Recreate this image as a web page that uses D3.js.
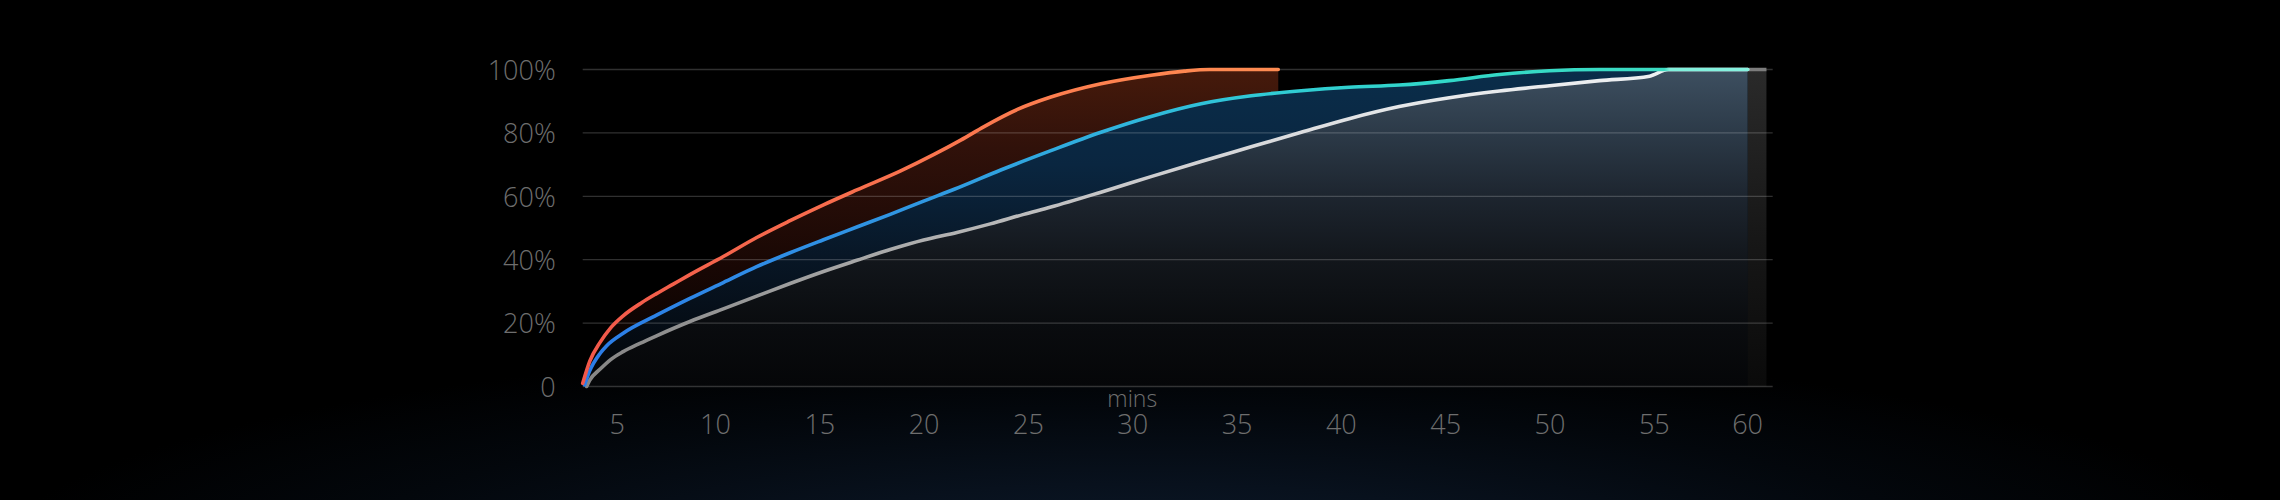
<!DOCTYPE html>
<html>
<head>
<meta charset="utf-8">
<script src="https://cdn.jsdelivr.net/npm/d3@7"></script>
<style>
  html, body { margin: 0; padding: 0; background: #000; }
  svg { display: block; }
  text { font-family: "Open Sans", "Noto Sans", sans-serif; font-weight: 300; }
</style>
</head>
<body>
<svg id="chart" width="2280" height="500"></svg>
<script>
// ---------------- DATA ----------------
const xTicks = [5, 10, 15, 20, 25, 30, 35, 40, 45, 50, 55, 60];
const yTicks = [0, 20, 40, 60, 80, 100];
const xAxisTitle = "mins";

// series 1 (red -> orange)
const minutesA = [3.66, 4.0, 4.5, 5.0, 5.6, 6.5, 7.2, 8.0, 8.8, 10.4, 12.0, 13.6, 15.2, 16.8, 18.9, 20.5, 21.8, 22.9, 24.5, 26.1, 28.5, 30.9, 32.5, 33.7, 37.0];
const valuesA  = [1, 8, 14, 18.5, 22.3, 26.5, 29.3, 32.3, 35.3, 41, 47, 52.3, 57.3, 62, 68, 73.2, 77.8, 82, 87.4, 91.3, 95.5, 98.2, 99.5, 100, 100];

// series 2 (blue -> teal)
const minutesB = [3.75, 4.0, 4.5, 4.8, 5.6, 7.2, 8.8, 10.4, 12.0, 13.6, 15.2, 16.8, 18.4, 20.0, 21.5, 23.7, 26.1, 28.5, 30.9, 33.3, 35.7, 38.1, 40.4, 42.8, 45.2, 47.6, 50.0, 52.4, 59.5];
const valuesB  = [0.5, 5, 10.5, 12.8, 16.8, 22.5, 27.8, 32.8, 37.8, 42.2, 46.3, 50.3, 54.3, 58.5, 62.3, 68.3, 74.4, 80.2, 85.2, 89.2, 91.7, 93.3, 94.4, 95.1, 96.5, 98.4, 99.6, 100, 100];

// series 3 (grey -> white)
const minutesC = [3.85, 4.0, 4.5, 5.0, 5.6, 6.4, 7.2, 8.8, 10.4, 12.0, 13.6, 15.2, 16.8, 18.4, 20.0, 21.6, 23.2, 24.8, 26.1, 28.5, 30.9, 33.3, 35.7, 38.1, 40.4, 42.8, 45.2, 47.6, 50.0, 52.4, 54.8, 55.7, 59.5];
const valuesC  = [0, 2, 5.5, 8.5, 11, 13.6, 16, 20.5, 24.5, 28.5, 32.5, 36.3, 39.8, 43.2, 46.2, 48.6, 51.3, 54.3, 56.6, 61.3, 66.2, 71.0, 75.6, 80.2, 84.5, 88.3, 91.1, 93.2, 94.9, 96.5, 97.9, 100, 100];

// highlighted final-minute band
const bandStart = 59.5, bandEnd = 60.4;

// ---------------- LAYOUT ----------------
const W = 2280, H = 500;
const margin = { top: 69.5, right: 507.3, bottom: 113.5, left: 582.7 };
const xDomain = [3.66, 60.7];

const svg = d3.select("#chart");
const defs = svg.append("defs");

const x = d3.scaleLinear().domain(xDomain).range([margin.left, W - margin.right]);
const y = d3.scaleLinear().domain([0, 100]).range([H - margin.bottom, margin.top]);

// ---------------- BACKGROUND ----------------
svg.append("rect").attr("width", W).attr("height", H).attr("fill", "#000");
const glow = defs.append("radialGradient").attr("id", "glow")
  .attr("gradientUnits", "userSpaceOnUse")
  .attr("cx", W / 2).attr("cy", 560).attr("r", 1150)
  .attr("gradientTransform", `translate(${W/2},560) scale(1,0.19) translate(${-W/2},-560)`);
[[0, "#0c1a2b"], [0.35, "#08111d"], [0.7, "#03070c"], [1, "#000000"]].forEach(([o, c]) =>
  glow.append("stop").attr("offset", o).attr("stop-color", c));
svg.append("rect").attr("width", W).attr("height", H).attr("fill", "url(#glow)");

// ---------------- GRADIENTS ----------------
function vGrad(id, stops) {
  const g = defs.append("linearGradient").attr("id", id)
    .attr("gradientUnits", "userSpaceOnUse")
    .attr("x1", 0).attr("x2", 0).attr("y1", y(100)).attr("y2", y(0));
  stops.forEach(([o, c]) => g.append("stop").attr("offset", o).attr("stop-color", c));
}
function hGrad(id, stops) {
  const g = defs.append("linearGradient").attr("id", id)
    .attr("gradientUnits", "userSpaceOnUse")
    .attr("y1", 0).attr("y2", 0).attr("x1", x(xDomain[0])).attr("x2", x(60));
  const span = x(60) - x(xDomain[0]);
  stops.forEach(([m, c]) => g.append("stop").attr("offset", (x(m) - x(xDomain[0])) / span).attr("stop-color", c));
}

vGrad("fillA", [[0, "#461a0b"], [0.25, "#30110a"], [0.63, "#180704"], [1, "#020100"]]);
vGrad("fillB", [[0, "#0a2d4a"], [0.3, "#0a2640"], [0.6, "#081625"], [1, "#020407"]]);
vGrad("fillC", [[0, "#3d4f60"], [0.2, "#2c3a48"], [0.4, "#1d252f"], [0.6, "#12161b"], [0.8, "#0a0c0f"], [1, "#050608"]]);
vGrad("bandFill", [[0, "#2a2a2a"], [0.5, "#181818"], [1, "#0a0a0a"]]);

hGrad("lineA", [[3.66, "#f2584a"], [10, "#f5644c"], [20, "#fa744e"], [30, "#ff8450"], [37, "#ff8c52"], [60, "#ff8c52"]]);
hGrad("lineB", [[3.66, "#2b7ce8"], [12, "#2f8ce6"], [20, "#3098e2"], [28, "#30b0de"], [36, "#30cad6"], [45, "#32d8c8"], [55.5, "#3cdcc2"], [55.75, "#80f0dc"], [60, "#88f2e0"]]);
hGrad("lineC", [[3.66, "#858585"], [12, "#9a9a9a"], [22, "#b4b4b4"], [32, "#d0d0d2"], [42, "#e4e6e8"], [55, "#eef0f2"], [60, "#f0f2f4"]]);

// ---------------- AREAS ----------------
const curve = d3.curveMonotoneX;
const series = [
  { m: minutesA, v: valuesA, fill: "url(#fillA)", stroke: "url(#lineA)" },
  { m: minutesB, v: valuesB, fill: "url(#fillB)", stroke: "url(#lineB)" },
  { m: minutesC, v: valuesC, fill: "url(#fillC)", stroke: "url(#lineC)" }
];
series.forEach(s => { s.pts = s.m.map((t, i) => [t, s.v[i]]); });

const area = d3.area().x(d => x(d[0])).y0(y(0)).y1(d => y(d[1])).curve(curve);
const line = d3.line().x(d => x(d[0])).y(d => y(d[1])).curve(curve);

series.forEach(s => {
  svg.append("path").attr("d", area(s.pts)).attr("fill", s.fill);
});

// final-minute band
svg.append("rect")
  .attr("x", x(bandStart)).attr("width", x(bandEnd) - x(bandStart))
  .attr("y", y(100)).attr("height", y(0) - y(100))
  .attr("fill", "url(#bandFill)");

// ---------------- GRID ----------------
svg.append("g").selectAll("line").data(yTicks).join("line")
  .attr("x1", x(xDomain[0])).attr("x2", x(xDomain[1]))
  .attr("y1", d => y(d)).attr("y2", d => y(d))
  .attr("stroke", "rgba(255,255,255,0.19)").attr("stroke-width", 1.3);

// band top cap
svg.append("line")
  .attr("x1", x(bandStart)).attr("x2", x(bandEnd))
  .attr("y1", y(100)).attr("y2", y(100))
  .attr("stroke", "#7c7c7c").attr("stroke-width", 3.5);

// ---------------- LINES (bottom series first, so teal sits on white) ----------------
[series[2], series[1], series[0]].forEach(s => {
  svg.append("path").attr("d", line(s.pts))
    .attr("fill", "none").attr("stroke", s.stroke)
    .attr("stroke-width", 3.6).attr("stroke-linecap", "round").attr("stroke-linejoin", "round");
});

// ---------------- AXES ----------------
const yAxis = d3.axisLeft(y).tickValues(yTicks).tickSize(0).tickPadding(0)
  .tickFormat(d => d === 0 ? "0" : d + "%");
const gy = svg.append("g").attr("transform", `translate(${margin.left - 27},0)`).call(yAxis);
gy.select(".domain").remove();
gy.selectAll("text").attr("fill", "#6e6e6e").attr("font-size", 27)
  .attr("font-family", '"Open Sans", sans-serif').attr("font-weight", 300).attr("dy", "0.36em");

const xAxis = d3.axisBottom(x).tickValues(xTicks).tickSize(0).tickPadding(0).tickFormat(d => d);
const gx = svg.append("g").attr("transform", `translate(0,${y(0)})`).call(xAxis);
gx.select(".domain").remove();
gx.selectAll("text").attr("fill", "#6e6e6e").attr("font-size", 27)
  .attr("font-family", '"Open Sans", sans-serif').attr("font-weight", 300)
  .attr("y", 47.5).attr("dy", 0)
  .attr("dx", d => d === 5 ? 6 : (d === 60 ? -11 : 0));

svg.append("text")
  .attr("x", x(30)).attr("y", y(0) + 20.5)
  .attr("text-anchor", "middle").attr("fill", "#6e6e6e")
  .attr("font-size", 23).attr("font-weight", 300)
  .text(xAxisTitle);
</script>
</body>
</html>
